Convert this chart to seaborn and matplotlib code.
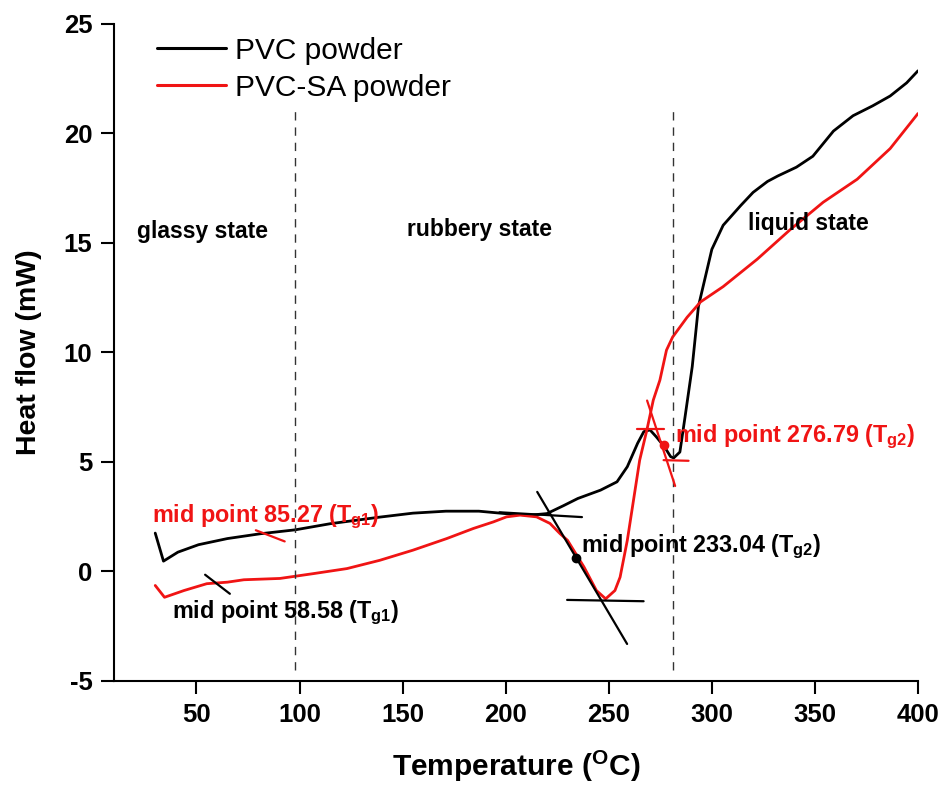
import numpy as np
import pandas as pd
import matplotlib
matplotlib.use("Agg")
import matplotlib.pyplot as plt
import seaborn as sns

# ---------------- data ----------------
pvc_T = [30, 34, 41, 51, 65, 81, 98, 115, 139, 155, 171, 187, 202, 212, 220, 228,
         235, 246, 254, 259, 264, 267, 270, 273, 277, 280, 281.5, 284.5, 287, 290.5,
         293.5, 297, 300, 305.5, 314, 320, 327, 332, 341, 349, 359, 368.5, 378,
         386.5, 394.5, 400]
pvc_H = [1.75, 0.47, 0.88, 1.22, 1.5, 1.72, 1.9, 2.18, 2.48, 2.66, 2.75, 2.75, 2.62,
         2.57, 2.64, 3.0, 3.33, 3.71, 4.09, 4.78, 5.85, 6.38, 6.46, 6.15, 5.69, 5.24,
         5.18, 5.45, 7.05, 9.35, 12.1, 13.5, 14.7, 15.8, 16.7, 17.3, 17.8, 18.05,
         18.45, 18.95, 20.1, 20.8, 21.25, 21.7, 22.3, 22.85]

sa_T = [30, 34.5, 44, 55, 65, 73, 90.5, 106.7, 123, 139, 155, 171.4, 184.3, 194,
        200.4, 207, 215, 221.5, 226.3, 230, 238, 244, 248.5, 253, 255.5, 259, 262,
        265, 268.5, 271.6, 274.8, 278, 281, 288, 294.5, 305.5, 322, 338, 354, 370.5,
        386.5, 400]
sa_H = [-0.64, -1.18, -0.87, -0.56, -0.49, -0.38, -0.32, -0.1, 0.13, 0.51, 0.97, 1.5,
        1.96, 2.26, 2.49, 2.57, 2.49, 2.19, 1.73, 1.42, 0.2, -0.87, -1.25, -0.87,
        -0.26, 1.42, 3.25, 5.08, 6.46, 7.82, 8.73, 10.1, 10.7, 11.6, 12.3, 13.0,
        14.25, 15.6, 16.85, 17.9, 19.3, 20.9]

series_names = ["PVC powder", "PVC-SA powder"]
series_colors = ["black", "#f01414"]

# tangent construction lines (x pairs, y pairs)
black_tan_x = [[197, 237], [215.3, 258.9], [229.8, 266.9], [54.2, 66.2]]
black_tan_y = [[2.7, 2.48], [3.63, -3.31], [-1.3, -1.36], [-0.15, -1.02]]
red_tan_x = [[263.7, 276.6], [268.6, 282.2], [276.6, 288.7], [78.8, 92.8]]
red_tan_y = [[6.5, 6.5], [7.8, 3.9], [5.08, 5.05], [1.88, 1.37]]
black_mid = (234.3, 0.63)
red_mid = (277.0, 5.77)

state_lines = [98, 281]
state_line_span = (-4.5, 21.0)

region_labels = ["glassy state", "rubbery state", "liquid state"]
region_pos = [(52.7, 15.5, "center"), (152, 15.6, "left"), (317.6, 15.9, "left")]

mid_labels = ["mid point 85.27 (T$_{\\mathbf{g1}}$)",
              "mid point 58.58 (T$_{\\mathbf{g1}}$)",
              "mid point 233.04 (T$_{\\mathbf{g2}}$)",
              "mid point 276.79 (T$_{\\mathbf{g2}}$)"]
mid_pos = [(28.3, 2.26), (38.0, -2.15), (236.3, 0.89), (282.1, 5.91)]
mid_colors = ["#f01414", "black", "black", "#f01414"]

x_ticks = [50, 100, 150, 200, 250, 300, 350, 400]
y_ticks = [-5, 0, 5, 10, 15, 20, 25]

# ---------------- styling ----------------
sns.set_theme(style="ticks")
plt.rcParams["font.family"] = ["Liberation Sans", "DejaVu Sans"]
plt.rcParams["mathtext.fontset"] = "custom"
plt.rcParams["mathtext.rm"] = "Liberation Sans"
plt.rcParams["mathtext.bf"] = "Liberation Sans:bold"
plt.rcParams["mathtext.it"] = "Liberation Sans:italic"
plt.rcParams["axes.unicode_minus"] = False
for k in ["text.color", "axes.labelcolor", "xtick.color", "ytick.color", "axes.edgecolor"]:
    plt.rcParams[k] = "black"

fig = plt.figure(figsize=(9.5, 7.9), dpi=100)
ax = fig.add_axes([0.12, 0.138, 0.8463, 0.832])

df = pd.concat([
    pd.DataFrame({"T": pvc_T, "H": pvc_H, "sample": series_names[0]}),
    pd.DataFrame({"T": sa_T, "H": sa_H, "sample": series_names[1]}),
])
sns.lineplot(data=df, x="T", y="H", hue="sample", palette=dict(zip(series_names, series_colors)),
             estimator=None, sort=False, linewidth=2.0, ax=ax)
for ln in ax.get_lines():
    ln.set_solid_joinstyle("round")

for xs, ys in zip(black_tan_x, black_tan_y):
    ax.plot(xs, ys, color="black", lw=1.6, zorder=3)
for xs, ys in zip(red_tan_x, red_tan_y):
    ax.plot(xs, ys, color=series_colors[1], lw=1.6, zorder=3)
ax.plot(*black_mid, "o", color="black", ms=6, zorder=4)
ax.plot(*red_mid, "o", color=series_colors[1], ms=6, zorder=4)

for xv in state_lines:
    ax.vlines(xv, *state_line_span, colors="#333333", linestyles=(0, (6, 5)), lw=1.0)

for lab, (x, y, ha) in zip(region_labels, region_pos):
    ax.text(x, y, lab, ha=ha, va="center", fontsize=16.5, fontweight="bold", color="black")

for lab, (x, y), c in zip(mid_labels, mid_pos, mid_colors):
    ax.text(x, y, lab, ha="left", va="baseline", fontsize=16.8, fontweight="bold", color=c)

ax.set_xlim(10, 400)
ax.set_ylim(-5, 25)
ax.set_xticks(x_ticks)
ax.set_yticks(y_ticks)
ax.tick_params(direction="out", length=9.5, width=1.5, labelsize=18.5, pad=6, colors="black")
for lbl in ax.get_xticklabels() + ax.get_yticklabels():
    lbl.set_fontweight("bold")
for s in ["top", "right"]:
    ax.spines[s].set_visible(False)
for s in ["left", "bottom"]:
    ax.spines[s].set_linewidth(1.5)
    ax.spines[s].set_color("black")

ax.set_xlabel("Temperature ($^{\\mathbf{O}}$C)", fontsize=21.5, fontweight="bold", labelpad=16)
ax.set_ylabel("Heat flow (mW)", fontsize=20.5, fontweight="bold", labelpad=16)

leg = ax.legend(loc="upper left", bbox_to_anchor=(0.054, 0.98), frameon=False,
                fontsize=21.5, handlelength=2.3, handletextpad=0.3, labelspacing=0.3,
                borderpad=0, borderaxespad=0)
for line in leg.get_lines():
    line.set_linewidth(2.2)
for t in leg.get_texts():
    t.set_color("black")

fig.savefig("out.png", dpi=100)
